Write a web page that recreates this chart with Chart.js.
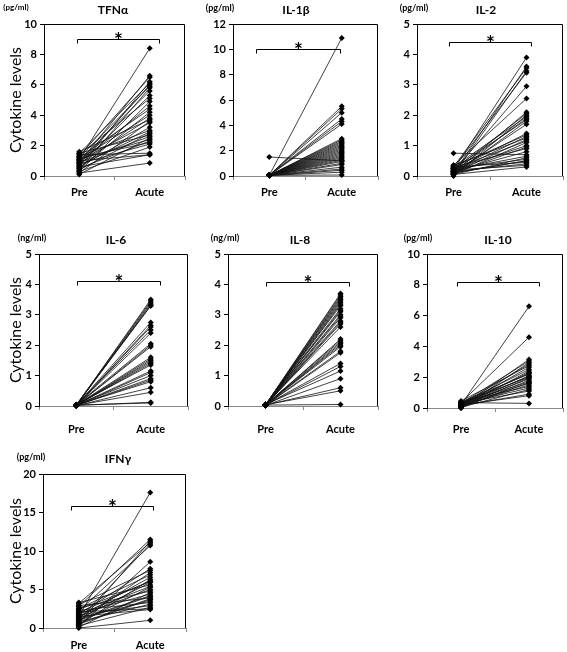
<!DOCTYPE html>
<html>
<head>
<meta charset="utf-8">
<script src="https://cdn.jsdelivr.net/npm/chart.js@4.4.1/dist/chart.umd.min.js"></script>
<style>
  body { margin: 0; background: #fff; width: 567px; height: 652px; position: relative; overflow: hidden; font-family: Lato, "Open Sans", sans-serif; }
  canvas { position: absolute; }
  .lbl { position: absolute; font-weight: bold; white-space: nowrap; color: #000; transform: translate(-50%, -50%); line-height: 1; }
  .unit { font-size: 9px; }
  .ttl { font-size: 12px; }
</style>
</head>
<body>
<script>
// categories
const cats = ['Pre', 'Acute'];

// TFNα (pg/ml)
const tnfPre   = [1.1, 0.9, 1.3, 0.6, 1.5, 0.8, 1.2, 0.4, 1.0, 0.7, 1.4, 0.3, 0.9, 1.2, 0.5, 1.1, 0.8, 1.6, 0.2, 1.0, 0.6, 1.3, 0.7, 0.4, 1.5, 0.9, 0.1, 1.1, 0.5, 1.2, 0.8, 0.3, 1.4, 0.6, 1.0, 0.2];
const tnfAcute = [8.4, 6.6, 6.5, 6.2, 6.1, 6.0, 5.9, 5.8, 5.6, 5.3, 5.1, 4.9, 4.6, 4.4, 4.2, 4.0, 3.8, 3.7, 3.6, 3.5, 3.2, 3.0, 2.9, 2.8, 2.7, 2.6, 2.5, 2.4, 2.3, 2.2, 2.1, 1.9, 1.5, 1.4, 1.4, 0.85];

// IL-1β (pg/ml)
const il1Pre   = [0.05, 0.05, 0.05, 0.05, 0.05, 0.05, 0.05, 0.05, 0.05, 0.05, 0.05, 0.05, 0.05, 0.05, 0.05, 0.05, 0.05, 0.05, 0.05, 0.05, 0.05, 0.05, 0.05, 0.05, 0.05, 0.05, 0.05, 0.05, 1.5, 0.05, 0.05, 0.05, 0.05, 0.05];
const il1Acute = [10.9, 5.5, 5.3, 5.0, 4.5, 4.3, 4.1, 2.95, 2.85, 2.75, 2.65, 2.55, 2.45, 2.35, 2.25, 2.15, 2.05, 1.95, 1.85, 1.75, 1.65, 1.55, 1.45, 1.35, 1.25, 1.15, 1.0, 0.9, 1.2, 0.7, 0.55, 0.45, 0.3, 0.08];

// IL-2 (pg/ml)
const il2Pre   = [0.2, 0.1, 0.3, 0.05, 0.25, 0.15, 0.35, 0.1, 0.2, 0.0, 0.3, 0.15, 0.25, 0.05, 0.1, 0.2, 0.3, 0.15, 0.35, 0.1, 0.25, 0.05, 0.2, 0.1, 0.3, 0.15, 0.75, 0.2, 0.05, 0.25, 0.1, 0.3, 0.15, 0.2, 0.05, 0.1];
const il2Acute = [3.9, 3.6, 3.55, 3.45, 3.4, 2.95, 2.55, 2.1, 2.05, 2.0, 1.95, 1.9, 1.85, 1.8, 1.7, 1.4, 1.35, 1.3, 1.25, 1.2, 1.15, 1.1, 1.0, 0.95, 0.9, 0.8, 0.7, 0.65, 0.6, 0.55, 0.5, 0.45, 0.4, 0.35, 0.3, 0.5];

// IL-6 (ng/ml)
const il6Pre   = [0.02, 0.03, 0.01, 0.02, 0.04, 0.02, 0.03, 0.01, 0.02, 0.03, 0.02, 0.04, 0.01, 0.02, 0.03, 0.02, 0.01, 0.03, 0.02, 0.04, 0.02, 0.01, 0.03, 0.02, 0.02, 0.03, 0.01, 0.02, 0.03, 0.02];
const il6Acute = [3.5, 3.45, 3.4, 3.35, 3.3, 3.3, 2.75, 2.65, 2.6, 2.5, 2.4, 2.05, 2.0, 1.95, 1.6, 1.55, 1.5, 1.45, 1.4, 1.35, 1.15, 1.1, 1.0, 0.9, 0.85, 0.8, 0.6, 0.45, 0.1, 0.12];

// IL-8 (ng/ml)
const il8Pre   = [0.03, 0.04, 0.02, 0.03, 0.05, 0.03, 0.02, 0.04, 0.03, 0.02, 0.05, 0.03, 0.04, 0.02, 0.03, 0.03, 0.04, 0.02, 0.05, 0.03, 0.02, 0.04, 0.03, 0.03, 0.02, 0.04, 0.03, 0.05, 0.02, 0.03, 0.04, 0.03, 0.02, 0.03];
const il8Acute = [3.7, 3.65, 3.6, 3.55, 3.5, 3.45, 3.4, 3.3, 3.2, 3.15, 3.1, 3.0, 2.95, 2.9, 2.8, 2.7, 2.6, 2.2, 2.15, 2.1, 2.05, 2.0, 1.95, 1.8, 1.75, 1.4, 1.3, 1.15, 0.9, 0.6, 0.5, 0.05, 2.75, 3.35];

// IL-10 (pg/ml)
const il10Pre   = [0.2, 0.35, 0.1, 0.3, 0.0, 0.25, 0.45, 0.15, 0.3, 0.05, 0.2, 0.4, 0.1, 0.25, 0.35, 0.15, 0.0, 0.3, 0.2, 0.1, 0.4, 0.25, 0.05, 0.3, 0.15, 0.2, 0.35, 0.1, 0.25, 0.05];
const il10Acute = [6.6, 4.6, 3.15, 3.05, 2.95, 2.85, 2.75, 2.65, 2.5, 2.4, 2.3, 2.2, 2.1, 2.05, 2.0, 1.9, 1.8, 1.7, 1.6, 1.5, 1.4, 1.3, 1.2, 1.1, 0.9, 0.8, 0.3, 1.95, 2.25, 1.65];

// IFNγ (pg/ml)
const ifnPre   = [1.5, 2.8, 0.6, 3.2, 1.1, 2.2, 0.2, 1.8, 3.0, 0.9, 2.5, 1.4, 0.4, 2.0, 1.2, 3.3, 0.7, 1.6, 2.6, 0.1, 1.9, 1.0, 2.9, 0.5, 1.3, 2.3, 0.8, 1.7, 0.3, 2.1, 1.5, 0.0, 2.4, 1.1, 0.6, 1.8];
const ifnAcute = [17.6, 11.5, 11.3, 11.1, 10.9, 10.7, 8.6, 7.7, 7.5, 7.2, 6.9, 6.6, 6.3, 6.1, 5.9, 5.6, 5.3, 5.0, 4.8, 4.6, 4.4, 4.1, 3.9, 3.7, 3.5, 3.3, 3.1, 2.9, 2.7, 2.5, 2.4, 1.0, 6.0, 4.2, 3.8, 5.4];

const panels = [
  { name: 'TFNα', unit: '(pg/ml)', pre: tnfPre, acute: tnfAcute, max: 10, step: 2, rect: [44, 24, 185, 176], yTitle: true, bracket: [9.0, -0.03, 1.13], xPad: 6, title: [113, 10], unitPos: [16, 7], unitSize: 8 },
  { name: 'IL-1β', unit: '(pg/ml)', pre: il1Pre, acute: il1Acute, max: 12, step: 2, rect: [233, 24, 378, 176], yTitle: false, bracket: [10.0, -0.18, 0.98], xPad: 6, title: [296, 10], unitPos: [220, 7] },
  { name: 'IL-2', unit: '(pg/ml)', pre: il2Pre, acute: il2Acute, max: 5, step: 1, rect: [417, 24, 563, 176], yTitle: false, bracket: [4.42, -0.06, 1.06], xPad: 6, title: [486, 10], unitPos: [414, 7] },
  { name: 'IL-6', unit: '(ng/ml)', pre: il6Pre, acute: il6Acute, max: 5, step: 1, rect: [39, 254, 188, 406], yTitle: true, bracket: [4.11, 0.01, 1.13], xPad: 13, title: [116, 240], unitPos: [32, 237] },
  { name: 'IL-8', unit: '(ng/ml)', pre: il8Pre, acute: il8Acute, max: 5, step: 1, rect: [228, 254, 378, 406], yTitle: false, bracket: [4.08, 0.0, 1.11], xPad: 13, title: [300, 240], unitPos: [225, 237] },
  { name: 'IL-10', unit: '(pg/ml)', pre: il10Pre, acute: il10Acute, max: 10, step: 2, rect: [427, 254, 563, 408], yTitle: false, bracket: [8.2, -0.06, 1.15], xPad: 11, title: [498, 240], unitPos: [418, 237] },
  { name: 'IFNγ', unit: '(pg/ml)', pre: ifnPre, acute: ifnAcute, max: 20, step: 5, rect: [43, 474, 186, 628], yTitle: true, bracket: [15.8, -0.11, 1.04], xPad: 7, title: [118, 459], unitPos: [31, 456] }
];

// plot-area frame plus the significance bracket and star
const framePlugin = {
  id: 'frame',
  afterDatasetsDraw(chart, args, opts) {
    const { ctx, chartArea: a, scales: { x, y } } = chart;
    ctx.save();
    ctx.strokeStyle = '#000';
    ctx.lineWidth = 1;
    ctx.beginPath();
    ctx.moveTo(Math.round(a.left) + 0.5, Math.round(a.top) + 0.5);
    ctx.lineTo(Math.round(a.right) - 0.5, Math.round(a.top) + 0.5);
    ctx.lineTo(Math.round(a.right) - 0.5, Math.round(a.bottom));
    ctx.stroke();

    const [bv, from, to] = opts.bracket;
    const p0 = x.getPixelForValue(0), p1 = x.getPixelForValue(1);
    const xa = Math.round(p0 + (p1 - p0) * from) + 0.5;
    const xb = Math.round(p0 + (p1 - p0) * to) + 0.5;
    const yb = Math.round(y.getPixelForValue(bv)) + 0.5;
    ctx.beginPath();
    ctx.moveTo(xa, yb + 4);
    ctx.lineTo(xa, yb);
    ctx.lineTo(xb, yb);
    ctx.lineTo(xb, yb + 4);
    ctx.stroke();
    ctx.fillStyle = '#000';
    ctx.font = 'bold 21px Lato';
    ctx.textAlign = 'center';
    ctx.textBaseline = 'alphabetic';
    ctx.fillText('*', (xa + xb) / 2, yb + 8);
    ctx.restore();
  }
};

const tickFont = { family: 'Lato', size: 11, weight: 'bold' };

panels.forEach(p => {
  const [x0, y0, x1, y1] = p.rect;
  const cl = p.yTitle ? 0 : x0 - 40;
  const ct = y0 - 20;
  const w = x1 + 4 - cl;
  const h = y1 + 30 - ct;

  const cv = document.createElement('canvas');
  cv.width = w; cv.height = h;
  cv.style.left = cl + 'px'; cv.style.top = ct + 'px';
  cv.style.width = w + 'px'; cv.style.height = h + 'px';
  document.body.appendChild(cv);

  const t = document.createElement('div');
  t.className = 'lbl ttl'; t.textContent = p.name;
  t.style.left = p.title[0] + 'px'; t.style.top = p.title[1] + 'px';
  document.body.appendChild(t);

  const u = document.createElement('div');
  u.className = 'lbl unit'; u.textContent = p.unit;
  u.style.left = p.unitPos[0] + 'px'; u.style.top = p.unitPos[1] + 'px';
  if (p.unitSize) u.style.fontSize = p.unitSize + 'px';
  document.body.appendChild(u);

  const datasets = p.pre.map((v, i) => ({
    data: [v, p.acute[i]],
    borderColor: '#111',
    borderWidth: 0.8,
    backgroundColor: '#000',
    pointStyle: 'rectRot',
    pointRadius: 3,
    pointBorderWidth: 0,
    clip: false
  }));

  new Chart(cv, {
    type: 'line',
    data: { labels: cats, datasets },
    plugins: [framePlugin],
    options: {
      responsive: false,
      animation: false,
      devicePixelRatio: 1,
      layout: { padding: { top: 20, right: 4, left: 0, bottom: 0 } },
      plugins: { legend: { display: false }, tooltip: { enabled: false }, frame: { bracket: p.bracket } },
      scales: {
        x: {
          offset: true,
          grid: { display: true, offset: true, drawOnChartArea: false, drawTicks: true, tickLength: 4, color: '#888' },
          border: { display: true, color: '#888', width: 1 },
          ticks: { color: '#000', font: tickFont, padding: p.xPad, maxRotation: 0 },
          afterFit: s => { s.height = 30; }
        },
        y: {
          min: 0, max: p.max,
          grid: { display: true, drawOnChartArea: false, drawTicks: true, tickLength: 4, color: '#000' },
          border: { display: true, color: '#000', width: 1 },
          ticks: { stepSize: p.step, color: '#000', font: tickFont, padding: 3 },
          title: { display: p.yTitle, text: 'Cytokine levels', color: '#000', font: { family: 'Lato', size: 16 }, padding: { top: 6, bottom: 0 } },
          afterFit: s => { s.width = x0 - cl; }
        }
      }
    }
  });
});
</script>
</body>
</html>
